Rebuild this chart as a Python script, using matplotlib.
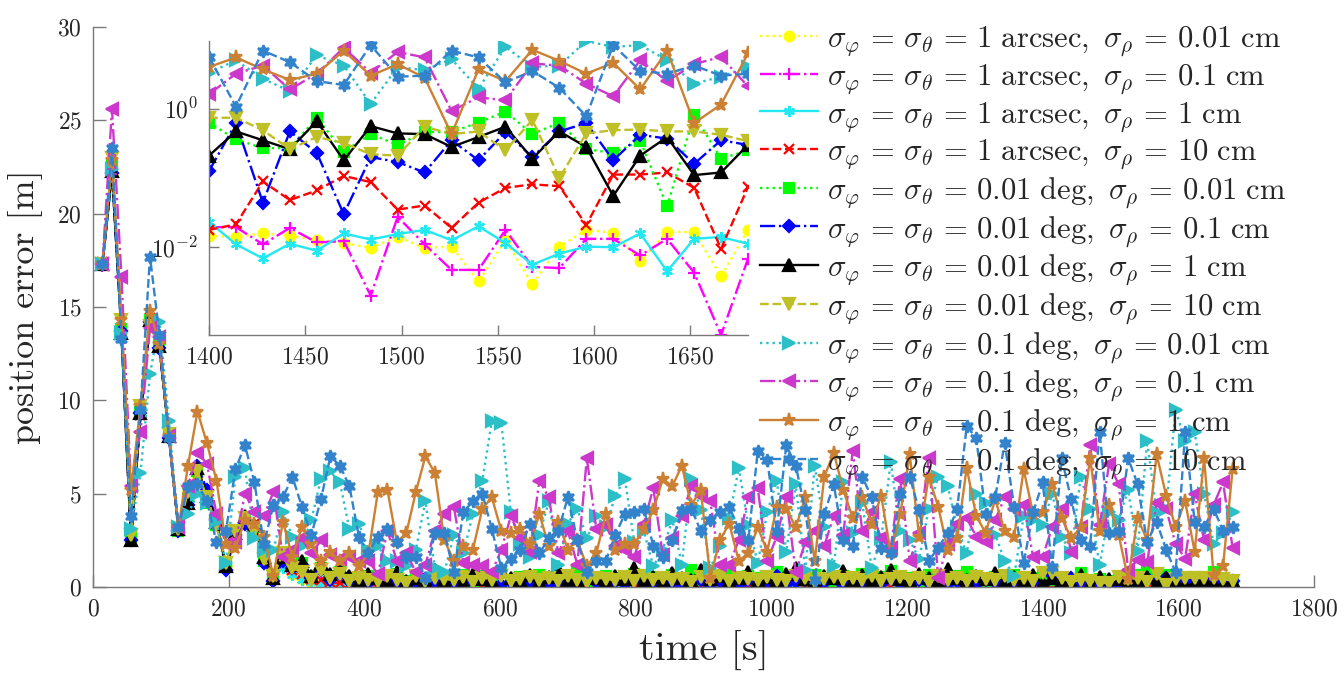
import numpy as np
import matplotlib
matplotlib.use("Agg")
import matplotlib.pyplot as plt
from matplotlib.ticker import NullLocator, FixedLocator

plt.rcParams['font.family'] = 'serif'
plt.rcParams['font.serif'] = ['cmr10']
plt.rcParams['mathtext.fontset'] = 'cm'
plt.rcParams['axes.formatter.use_mathtext'] = True

# ---------------- data ----------------
time_s = np.arange(14, 1681, 14)  # sample instants (s)

angle_labels = ['1', '1', '1', '1', '0.01', '0.01', '0.01', '0.01', '0.1', '0.1', '0.1', '0.1']
angle_units = ['arcsec'] * 4 + ['deg'] * 8
range_labels = ['0.01', '0.1', '1', '10'] * 3

# 1 arcsec, 0.01 cm
s1 = ([17.3, 22.2, 13.9, 2.6, 9.4, 14.2, 12.9, 8.1, 3.1, 5.2, 6.0, 4.6, 3.4, 1.1, 3.0, 3.5, 3.2, 1.4, 0.5]
      + [1.1, 0.7, 0.45, 0.28, 0.18, 0.12, 0.08, 0.05, 0.035, 0.03]
      + [0.022, 0.015, 0.018, 0.012, 0.02, 0.014, 0.009, 0.017, 0.021, 0.013,
         0.016, 0.011, 0.019, 0.014, 0.008, 0.015, 0.018, 0.012, 0.02, 0.016,
         0.01, 0.013, 0.017, 0.015, 0.009, 0.014, 0.019, 0.012, 0.016, 0.011,
         0.018, 0.014, 0.007, 0.013, 0.017, 0.015, 0.012, 0.019, 0.01, 0.016,
         0.013, 0.018, 0.011, 0.015, 0.009, 0.017, 0.014, 0.012, 0.019, 0.016,
         0.01, 0.015, 0.013, 0.018, 0.012, 0.016, 0.008, 0.014, 0.017, 0.011,
         0.015, 0.019, 0.013, 0.01, 0.016, 0.014, 0.018, 0.012, 0.015, 0.013]
      + [0.0145, 0.0141, 0.0158, 0.0145, 0.0129, 0.0115, 0.0098, 0.0141, 0.0098, 0.0102, 0.0032,
         0.0126, 0.0029, 0.0102, 0.0178, 0.0162, 0.0063, 0.0166, 0.0166, 0.0038, 0.0178])
# 1 arcsec, 0.1 cm
s2 = ([17.2, 22.4, 13.7, 2.7, 9.2, 14.3, 12.8, 8.2, 3.1, 5.0, 6.2, 4.8, 3.5, 1.2, 2.8, 3.6, 3.3, 1.5, 0.6]
      + [1.2, 0.8, 0.5, 0.3, 0.2, 0.13, 0.09, 0.06, 0.04, 0.03]
      + [0.018, 0.009, 0.024, 0.012, 0.006, 0.015, 0.02, 0.008, 0.013, 0.019,
         0.011, 0.004, 0.016, 0.021, 0.01, 0.007, 0.017, 0.013, 0.025, 0.009,
         0.012, 0.018, 0.005, 0.014, 0.02, 0.011, 0.008, 0.016, 0.013, 0.022,
         0.01, 0.006, 0.015, 0.019, 0.012, 0.009, 0.017, 0.003, 0.014, 0.02,
         0.011, 0.016, 0.008, 0.013, 0.021, 0.01, 0.015, 0.007, 0.018, 0.012,
         0.019, 0.009, 0.014, 0.005, 0.017, 0.011, 0.02, 0.013, 0.008, 0.016,
         0.012, 0.022, 0.01, 0.015, 0.006, 0.018, 0.013, 0.009, 0.017, 0.014]
      + [0.0195, 0.0195, 0.011, 0.019, 0.0117, 0.0123, 0.002, 0.0275, 0.011, 0.0047, 0.0047,
         0.0178, 0.0052, 0.005, 0.0132, 0.0132, 0.0076, 0.0132, 0.0043, 0.00054, 0.0068])
# 1 arcsec, 1 cm
s3 = ([17.3, 22.1, 13.8, 2.6, 9.3, 14.1, 12.9, 8.0, 3.2, 4.6, 6.1, 4.7, 3.6, 1.1, 2.9, 3.7, 3.2, 1.5, 0.5]
      + [1.0, 0.65, 0.4, 0.25, 0.16, 0.1, 0.07, 0.045, 0.03, 0.022]
      + [0.014, 0.011, 0.016, 0.009, 0.013, 0.018, 0.01, 0.015, 0.012, 0.008,
         0.014, 0.017, 0.011, 0.013, 0.009, 0.016, 0.012, 0.019, 0.01, 0.014,
         0.008, 0.013, 0.016, 0.011, 0.015, 0.012, 0.018, 0.009, 0.014, 0.011,
         0.016, 0.013, 0.01, 0.015, 0.007, 0.012, 0.017, 0.014, 0.011, 0.013,
         0.009, 0.016, 0.012, 0.015, 0.01, 0.018, 0.013, 0.011, 0.014, 0.008,
         0.012, 0.016, 0.01, 0.014, 0.013, 0.017, 0.009, 0.012, 0.015, 0.011,
         0.014, 0.01, 0.016, 0.012, 0.013, 0.009, 0.015, 0.011, 0.017, 0.012]
      + [0.0234, 0.011, 0.0069, 0.0112, 0.0089, 0.0158, 0.0129, 0.0155, 0.0178, 0.0126, 0.020,
         0.0115, 0.0056, 0.0081, 0.0102, 0.010, 0.0158, 0.0045, 0.0132, 0.0141, 0.0112])
# 1 arcsec, 10 cm
s4 = ([17.4, 22.3, 13.9, 2.6, 9.2, 14.4, 13.0, 8.1, 3.1, 4.8, 6.4, 4.6, 3.5, 1.2, 3.0, 3.6, 3.4, 1.6, 0.6]
      + [1.4, 0.9, 0.7, 0.45, 0.35, 0.25, 0.2, 0.15, 0.12, 0.1]
      + [0.085, 0.06, 0.11, 0.045, 0.07, 0.095, 0.05, 0.13, 0.075, 0.04,
         0.09, 0.065, 0.12, 0.055, 0.08, 0.1, 0.035, 0.07, 0.115, 0.06,
         0.085, 0.05, 0.105, 0.075, 0.045, 0.095, 0.065, 0.125, 0.055, 0.08,
         0.04, 0.1, 0.07, 0.09, 0.03, 0.075, 0.11, 0.06, 0.085, 0.05,
         0.12, 0.065, 0.095, 0.045, 0.08, 0.1, 0.055, 0.07, 0.115, 0.06,
         0.09, 0.035, 0.075, 0.105, 0.065, 0.085, 0.05, 0.11, 0.07, 0.095,
         0.04, 0.08, 0.1, 0.06, 0.125, 0.075, 0.045, 0.09, 0.065, 0.085]
      + [0.0178, 0.0214, 0.089, 0.048, 0.066, 0.107, 0.087, 0.035, 0.040, 0.019, 0.044,
         0.072, 0.081, 0.076, 0.021, 0.112, 0.112, 0.120, 0.072, 0.0095, 0.074])
# 0.01 deg, 0.01 cm
s5 = ([17.3, 22.6, 13.8, 2.7, 9.4, 14.3, 12.9, 8.1, 3.0, 4.7, 6.2, 4.5, 3.3, 1.2, 2.9, 3.5, 3.2, 1.4, 0.5]
      + [1.5, 1.1, 1.3, 0.6, 1.0, 0.6, 0.8, 0.5, 0.45, 0.6]
      + [0.5, 0.35, 0.7, 0.3, 0.55, 0.42, 0.8, 0.28, 0.48, 0.62,
         0.33, 0.58, 0.4, 0.75, 0.3, 0.52, 0.45, 0.66, 0.25, 0.5,
         0.38, 0.85, 0.42, 0.3, 0.6, 0.47, 0.35, 0.72, 0.4, 0.55,
         0.28, 0.63, 0.44, 0.9, 0.36, 0.5, 0.41, 0.68, 0.32, 0.57,
         0.46, 0.3, 0.78, 0.4, 0.53, 0.35, 0.64, 0.48, 0.27, 0.6,
         0.43, 0.7, 0.33, 0.55, 0.88, 0.4, 0.5, 0.3, 0.62, 0.45,
         0.37, 0.58, 0.8, 0.42, 0.29, 0.54, 0.47, 0.66, 0.34, 0.5]
      + [0.63, 0.36, 0.27, 0.27, 0.74, 0.24, 0.43, 0.30, 0.46, 0.46, 0.63,
         0.91, 0.43, 0.63, 0.26, 0.23, 0.34, 0.039, 0.81, 0.19, 0.25])
# 0.01 deg, 0.1 cm
s6 = ([17.3, 22.2, 13.7, 2.5, 9.3, 14.2, 12.8, 8.0, 3.0, 4.4, 6.5, 5.2, 3.6, 0.9, 2.8, 3.4, 3.1, 1.3, 0.3]
      + [1.4, 1.0, 1.2, 0.5, 0.9, 0.4, 0.7, 0.3, 0.35, 0.2]
      + [0.4, 0.15, 0.3, 0.08, 0.25, 0.45, 0.12, 0.35, 0.2, 0.06,
         0.3, 0.5, 0.18, 0.1, 0.28, 0.42, 0.14, 0.24, 0.07, 0.33,
         0.2, 0.12, 0.38, 0.26, 0.09, 0.3, 0.16, 0.44, 0.22, 0.11,
         0.34, 0.05, 0.27, 0.19, 0.4, 0.13, 0.31, 0.23, 0.08, 0.36,
         0.17, 0.29, 0.6, 0.1, 0.25, 0.37, 0.15, 0.21, 0.46, 0.12,
         0.32, 0.07, 0.28, 0.18, 0.41, 0.24, 0.1, 0.35, 0.2, 0.55,
         0.14, 0.3, 0.22, 0.09, 0.39, 0.26, 0.16, 0.33, 0.11, 0.27]
      + [0.126, 0.62, 0.044, 0.47, 0.23, 0.030, 0.20, 0.17, 0.12, 0.35, 0.18,
         0.46, 0.20, 0.47, 0.62, 0.18, 0.42, 0.37, 0.16, 0.35, 0.30])
# 0.01 deg, 1 cm
s7 = ([17.3, 22.3, 13.6, 2.5, 9.3, 14.3, 12.9, 8.1, 3.1, 4.5, 6.4, 4.9, 3.5, 1.1, 2.9, 3.8, 3.3, 1.6, 0.5]
      + [1.6, 1.2, 1.4, 0.6, 1.3, 0.7, 1.0, 0.6, 0.4, 0.7]
      + [0.5, 0.4, 0.8, 0.3, 0.5, 0.4, 0.9, 0.35, 0.6, 0.25,
         0.7, 0.45, 0.3, 0.85, 0.5, 0.4, 0.65, 0.3, 0.55, 0.95,
         0.4, 0.35, 0.7, 0.5, 0.3, 0.6, 0.45, 1.0, 0.4, 0.55,
         0.3, 0.75, 0.5, 0.35, 0.9, 0.45, 0.6, 0.3, 0.5, 0.8,
         0.4, 0.55, 0.35, 0.7, 1.0, 0.45, 0.3, 0.6, 0.5, 0.85,
         0.4, 0.65, 0.35, 0.55, 0.9, 0.45, 0.3, 0.7, 0.5, 0.4,
         0.95, 0.5, 0.35, 0.6, 0.45, 0.75, 0.3, 0.55, 0.4, 0.65]
      + [0.21, 0.47, 0.35, 0.26, 0.66, 0.18, 0.56, 0.44, 0.43, 0.28, 0.39,
         0.55, 0.19, 0.47, 0.28, 0.055, 0.21, 0.39, 0.11, 0.12, 0.30])
# 0.01 deg, 10 cm
s8 = ([17.3, 23.0, 14.3, 2.8, 9.7, 14.0, 13.3, 8.2, 3.1, 5.1, 6.2, 4.8, 3.3, 1.3, 3.0, 3.7, 3.0, 1.5, 0.6]
      + [1.8, 1.0, 0.8, 0.4, 0.9, 0.5, 0.7, 0.3, 0.5, 0.4]
      + [0.3, 0.6, 0.4, 0.2, 0.6, 0.3, 0.5, 0.45, 0.35, 0.55,
         0.25, 0.5, 0.4, 0.6, 0.3, 0.45, 0.55, 0.35, 0.5, 0.3,
         0.6, 0.4, 0.25, 0.5, 0.45, 0.35, 0.55, 0.3, 0.6, 0.4,
         0.5, 0.35, 0.45, 0.25, 0.55, 0.4, 0.6, 0.3, 0.5, 0.45,
         0.35, 0.55, 0.4, 0.3, 0.6, 0.5, 0.25, 0.45, 0.55, 0.35,
         0.5, 0.4, 0.6, 0.3, 0.45, 0.55, 0.35, 0.5, 0.25, 0.6,
         0.4, 0.5, 0.3, 0.55, 0.45, 0.35, 0.6, 0.4, 0.5, 0.3]
      + [0.74, 0.74, 0.49, 0.26, 0.39, 0.32, 0.22, 0.21, 0.55, 0.43, 0.47,
         0.25, 0.69, 0.10, 0.44, 0.49, 0.50, 0.47, 0.47, 0.42, 0.34])
# 0.1 deg, 0.01 cm
s9 = ([17.3, 22.4, 13.6, 3.1, 6.1, 11.4, 14.2, 8.9, 3.2, 3.9,
       5.0, 4.5, 3.5, 1.3, 5.9, 6.4, 2.6, 2.0, 2.0, 4.0,
       2.7, 2.2, 3.6, 5.8, 6.2, 5.6, 3.1, 3.4, 2.0, 2.2,
       1.4, 1.4, 1.1, 2.0, 4.6, 1.0, 0.8, 2.8, 1.8, 3.9, 5.7, 8.9]
      + [8.8, 4.0, 2.3, 1.6, 2.8, 4.6, 1.2, 3.4, 4.2, 2.6,
         3.8, 3.2, 4.9, 5.8, 2.4, 3.0, 1.1, 2.0, 3.6, 1.2,
         5.8, 4.1, 1.0, 2.2, 3.7, 6.4, 3.3, 1.3, 4.0, 5.7,
         1.9, 5.5, 0.9, 6.5, 3.2, 1.1, 5.6, 2.9, 4.5, 1.0,
         2.6, 6.7, 3.0, 2.5, 1.5, 4.2, 5.9, 5.4, 3.2, 1.8,
         5.0, 4.5, 2.8, 1.4, 0.6, 3.8, 3.6]
      + [3.3, 5.0, 2.7, 1.8, 5.9, 4.2, 1.17, 4.0, 3.6, 5.2, 1.95,
         7.8, 4.0, 4.2, 9.5, 7.8, 8.3, 5.0, 2.3, 2.9, 4.0])
# 0.1 deg, 0.1 cm
s10 = ([17.3, 25.6, 16.6, 5.4, 8.3, 13.9, 13.4, 8.1, 3.2, 5.4,
        7.2, 6.6, 3.9, 2.3, 2.4, 5.0, 4.0, 3.8, 5.1, 1.6,
        2.0, 2.6, 1.8, 2.5, 1.7, 1.5, 1.6, 1.4, 1.4, 0.7,
        3.0, 1.4, 1.8, 0.8, 1.2, 3.0, 3.9, 4.3, 1.3, 1.2, 1.1, 0.8]
       + [2.0, 3.8, 2.6, 1.9, 5.7, 4.8, 1.8, 3.0, 1.2, 6.9,
          3.1, 3.3, 2.2, 2.0, 1.6, 3.4, 5.3, 1.7, 2.6, 3.8,
          5.4, 4.9, 4.6, 1.2, 1.2, 2.5, 4.8, 5.3, 1.4, 2.7,
          4.8, 0.8, 2.4, 3.0, 2.2, 3.8, 2.8, 7.3, 3.0, 4.0,
          2.6, 2.1, 5.8, 1.4, 2.9, 6.9, 0.5, 2.3, 3.4, 3.7,
          2.7, 2.4, 3.6, 4.8, 4.2, 4.4, 1.6]
       + [1.62, 3.2, 4.2, 1.9, 3.2, 7.6, 3.3, 6.6, 5.5, 0.93, 1.46,
          1.32, 4.5, 4.2, 2.3, 1.51, 5.0, 2.5, 4.4, 5.6, 2.1])
# 0.1 deg, 1 cm
s11 = ([17.3, 22.9, 14.3, 5.2, 9.7, 14.8, 13.0, 8.1, 3.2, 6.5,
        9.4, 7.7, 5.7, 2.3, 2.1, 3.6, 3.4, 2.7, 0.6, 3.5,
        1.6, 3.2, 2.3, 1.4, 1.9, 1.4, 1.8, 1.1, 1.8, 5.1,
        5.2, 2.4, 2.9, 5.1, 7.0, 6.1, 2.5, 1.4, 2.2, 2.0, 4.2, 4.8]
       + [3.0, 2.9, 3.1, 2.3, 3.9, 2.2, 3.5, 2.0, 2.5, 1.1,
          1.8, 3.9, 2.0, 2.3, 2.3, 3.1, 4.1, 5.8, 5.4, 6.5,
          4.4, 5.2, 0.5, 2.5, 3.4, 1.4, 1.8, 3.2, 1.9, 4.3,
          4.2, 3.2, 4.8, 1.4, 5.9, 7.2, 5.2, 3.7, 4.8, 3.4,
          4.9, 1.8, 3.9, 7.1, 2.7, 5.9, 4.3, 2.0, 2.6, 6.4,
          3.8, 2.9, 4.7, 3.0, 2.7, 6.3, 3.9]
       + [4.0, 5.5, 3.7, 2.6, 3.2, 6.9, 3.0, 4.4, 2.8, 0.43, 3.7,
          2.5, 7.1, 4.9, 3.2, 4.6, 1.9, 6.9, 0.62, 1.15, 6.3])
# 0.1 deg, 10 cm
s12 = ([17.3, 23.5, 13.3, 3.8, 9.5, 17.7, 13.5, 8.0, 3.2, 5.4,
        5.5, 4.6, 2.4, 3.0, 6.3, 7.6, 5.6, 2.3, 4.4, 4.8,
        5.9, 4.3, 2.8, 4.7, 7.0, 6.5, 5.4, 2.7, 1.8, 2.7,
        3.1, 2.4, 1.6, 1.6, 0.5, 2.9, 2.9, 0.8, 4.0, 4.6, 5.0, 3.1]
       + [1.0, 1.5, 2.0, 3.4, 1.8, 2.6, 3.0, 4.8, 2.5, 0.8,
          1.4, 1.4, 2.8, 3.9, 4.0, 4.2, 2.2, 1.6, 2.5, 4.1,
          4.2, 3.0, 3.6, 4.0, 4.3, 3.1, 2.5, 7.3, 6.8, 3.0,
          7.6, 6.5, 4.1, 0.4, 3.9, 5.5, 2.5, 2.2, 5.9, 4.8,
          2.1, 1.8, 5.0, 5.9, 4.1, 1.4, 2.1, 2.9, 4.2, 8.6,
          8.0, 3.9, 4.8, 7.7, 4.3, 1.3, 4.0]
       + [5.6, 1.07, 6.9, 4.7, 2.5, 2.2, 8.3, 2.9, 3.0, 6.9, 5.5,
          2.4, 3.5, 2.0, 0.78, 8.3, 3.5, 3.2, 4.2, 3.0, 3.2])

series = [s1, s2, s3, s4, s5, s6, s7, s8, s9, s10, s11, s12]

# ---------------- styles ----------------
colors = ['#FFFF00', '#FF00FF', '#22E8F2', '#FF0000', '#00FF00', '#0000FF',
          '#000000', '#BFBF26', '#2DBFC8', '#CC38CC', '#CC8033', '#3382CC']
lstyles = [':', '-.', '-', '--', ':', '-.', '-', '--', ':', '-.', '-', '--']
markers = ['o', '+', (6, 2, 0), 'x', 's', 'D', '^', 'v', '>', '<', '*', (6, 1, 0)]
msizes = [7, 8, 8, 7, 6.5, 6.5, 8, 8, 8, 8, 9.5, 9]

W, H = 1344, 679
fig = plt.figure(figsize=(W / 100, H / 100), dpi=100)
ax = fig.add_axes([93 / W, 1 - 587 / H, (1314 - 93) / W, (587 - 27) / H])

spine_c = '#7a7a7a'
text_c = '#262626'

handles = []
labels = []
for i, ys in enumerate(series):
    assert len(ys) == len(time_s), (i, len(ys))
    (ln,) = ax.plot(time_s, ys, color=colors[i], ls=lstyles[i], lw=1.7,
                    marker=markers[i], ms=msizes[i], mfc=colors[i], mec=colors[i], mew=1.6)
    handles.append(ln)
    labels.append(r'$\sigma_\varphi\,=\,\sigma_\theta\,=\,%s\ \mathrm{%s},\ \sigma_\rho\,=\,%s\ \mathrm{cm}$'
                  % (angle_labels[i], angle_units[i], range_labels[i]))

ax.set_xlim(0, 1800)
ax.set_ylim(0, 30)
ax.set_xticks(np.arange(0, 1801, 200))
ax.set_yticks(np.arange(0, 31, 5))
for side in ['top', 'right']:
    ax.spines[side].set_visible(False)
for side in ['left', 'bottom']:
    ax.spines[side].set_color(spine_c)
    ax.spines[side].set_linewidth(1.0)
ax.tick_params(direction='in', length=9, width=1.0, color=spine_c, labelcolor=text_c,
               labelsize=17, pad=8)
ax.set_xlabel('time [s]', fontsize=29, color=text_c, labelpad=8)
ax.set_ylabel('position error [m]', fontsize=26, color=text_c, labelpad=10)

leg = ax.legend(handles, labels, loc='upper left', bbox_to_anchor=(748 / W, 1 - 12 / H),
                bbox_transform=fig.transFigure, frameon=False, fontsize=22,
                handlelength=1.9, handletextpad=0.3, labelspacing=0.125, borderaxespad=0)
for t in leg.get_texts():
    t.set_color(text_c)

# ---------------- inset ----------------
axi = fig.add_axes([209 / W, 1 - 335 / H, (748 - 209) / W, (335 - 41) / H])
mask = time_s >= 1400
ymin, ymax = np.inf, 0
for i, ys in enumerate(series):
    ys = np.asarray(ys)
    axi.plot(time_s[mask], ys[mask], color=colors[i], ls=lstyles[i], lw=1.7,
             marker=markers[i], ms=msizes[i], mfc=colors[i], mec=colors[i], mew=1.6)
    ymin = min(ymin, ys[mask].min())
    ymax = max(ymax, ys[mask].max())
axi.set_yscale('log')
axi.set_xlim(1400, 1680)
axi.set_ylim(ymin, ymax)
axi.yaxis.set_major_locator(FixedLocator([1e-2, 1e0]))
axi.yaxis.set_minor_locator(NullLocator())
axi.set_xticks(np.arange(1400, 1651, 50))
for side in ['top', 'right']:
    axi.spines[side].set_visible(False)
for side in ['left', 'bottom']:
    axi.spines[side].set_color(spine_c)
    axi.spines[side].set_linewidth(1.0)
axi.tick_params(direction='in', length=7, width=1.0, color=spine_c, labelcolor=text_c,
                labelsize=17, pad=8)
axi.patch.set_facecolor('white')

fig.savefig('out.png', dpi=100)
